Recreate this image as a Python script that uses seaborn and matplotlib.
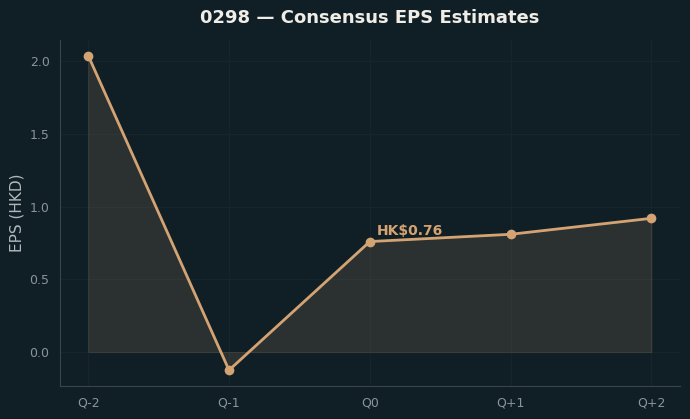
import matplotlib
matplotlib.use('Agg')
import matplotlib.pyplot as plt
import seaborn as sns
import pandas as pd

quarters = ['Q-2', 'Q-1', 'Q0', 'Q+1', 'Q+2']
eps = [2.04, -0.125, 0.76, 0.81, 0.92]
current_label = 'HK\\$0.76'

bg = '#101f26'
line_color = '#d4a373'

sns.set_style('dark', {
    'axes.facecolor': bg,
    'figure.facecolor': bg,
    'axes.edgecolor': '#3b4549',
    'grid.color': '#16252c',
    'axes.grid': True,
})
plt.rcParams['font.family'] = ['DejaVu Sans']

df = pd.DataFrame({'x': range(len(quarters)), 'eps': eps})

fig, ax = plt.subplots(figsize=(6.9, 4.19), dpi=100)
fig.subplots_adjust(left=0.087, right=0.985, top=0.905, bottom=0.079)

ax.fill_between(df['x'], df['eps'], 0, color=line_color, alpha=0.14, linewidth=0.8)
sns.lineplot(data=df, x='x', y='eps', ax=ax, color=line_color, linewidth=2,
             marker='o', markersize=7, markeredgewidth=0)

ax.annotate(current_label, (2, eps[2]), xytext=(5, 5), textcoords='offset points',
            color=line_color, fontsize=10, fontweight='bold')

ax.set_xticks(range(len(quarters)))
ax.set_xticklabels(quarters)
ax.set_xlabel('')
ax.set_ylabel('EPS (HKD)', color='#b0b8bb', fontsize=11)
ax.set_title('0298 — Consensus EPS Estimates', color='#f0ede6', fontsize=13,
             fontweight='bold', pad=12)
ax.tick_params(colors='#8a9499', labelsize=9, length=4)
ax.tick_params(axis='both', color='#5a6468')
sns.despine(ax=ax)
for s in ['left', 'bottom']:
    ax.spines[s].set_color('#3b4549')

fig.savefig('out.png', dpi=100, facecolor=bg)
